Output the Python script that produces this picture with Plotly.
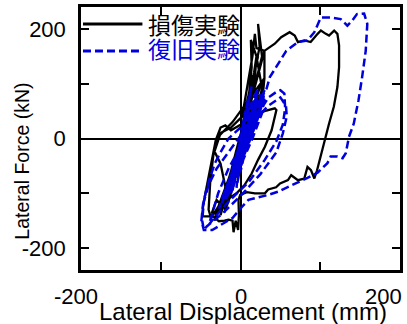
import plotly.graph_objects as go

# ---------------- data ----------------
black_name = "損傷実験"
blue_name = "復旧実験"

black_x = [0, 4, 2, -3, -1, 7, 4, 0, -7, -4, 0, 11, 8, 1, -11, -8, -1, 16, 13, 3, -15, -12, -2,
           20, 22, 19, 6, -20, -17, -4, 24, 22, 25, 27, 12, -25, -22, -6,
           5, 12, 17, 20, 18, 8, -5, -15, -24, -20, -10, 0,
           8, 18, 26, 30, 30, 22, 8, -8, -22, -30, -33, -28, -18, -5,
           3, 10, 14, 13, 20, 24, 26, 14, 2, -12, -26, -37, -40, -38, -34, -25, -12,
           2, 10, 15, 18, 20, 30, 43, 51, 61.6, 68, 72, 80, 88, 96.7, 100.8, 107, 111, 117.4, 121.5,
           123.6, 123.6, 121.5, 117, 111, 107, 103, 98.8, 96, 92.6, 88.4, 84, 80, 72, 63.6, 59.5,
           49.6, 44.6, 34.7, 30.6, 18, 8, -0.4, -2.5, -2, -3, -6, -8.7, -10, -15, -20, -27, -35,
           -48, -47, -44, -40, -36, -31, -25, -19, -12, 0, 15, 30, 43, 45, 39, 30.6, 22, 14, 5, -5,
           -15, -25, -30, -36, -28, -23.5, -19, -25, -33.5, -30, -20, -10, 0, 10, 20, 30, 28, 20,
           10, 0, -10, -20, -12, 0, 8, 16, 22, 18, 8, -3, -12, -18, -14, -5, 2, 10, 14, 9, 0, -8,
           -4, 0, -10, -18, -22, -16, -8, 0, 6, 2, -6, -14, -20, -12, -2, 4, 0]
black_y = [0, 30, 15, -25, -10, 55, 35, 5, -55, -35, -5, 85, 65, 10, -90, -70, -12, 115, 95, 20,
           -115, -95, -18, 140, 150, 130, 40, -130, -112, -28, 167, 209, 175, 150, 60, -140, -120,
           -40,
           30, 80, 120, 150, 110, 50, -20, -80, -130, -105, -60, -15,
           40, 95, 140, 160, 110, 60, 0, -60, -110, -140, -150, -125, -85, -35,
           20, 70, 130, 180, 150, 120, 100, 50, -10, -70, -120, -145, -130, -80, -30, 10, 20,
           40, 110, 150, 191, 165, 160, 173, 185, 194, 188, 176, 179, 176, 191, 197, 191, 188, 197,
           191, 170, 130, 94, 58, 27, 3, -21, -45, -58, -73, -58, -52, -73, -76, -67, -76, -82, -89,
           -93, -100, -100, -98, -103, -112, -140, -167, -150, -171, -150, -148, -150, -151, -142,
           -142, -125, -100, -70, -40, -3, 20, 24, 15, 25, 40, 50, 55, 52, 15, -15, -39, -64, -85,
           -100, -110, -120, -112, -136, -132, -125, -88, -46, -21, 0, 15, 30, 50, 70, 90, 110, 80,
           40, 0, -40, -80, -100, -60, -10, 30, 60, 80, 50, 10, -40, -80, -100, -70, -30, 5, 40,
           60, 30, -10, -50, -30, 0, -60, -100, -125, -110, -70, -30, 10, -20, -70, -110, -135,
           -95, -45, 0, -10]

blue_x = [0, 3, 1, -3, -1, 6, 3, 0, -6, -3, 0, 10, 7, 1, -9, -6, 0, 14, 11, 2, -13, -10, -2,
          18, 22, 19, 5, -16, -19, -14, -1,
          8, 15, 20, 18, 8, -2, -8, -12, -8, 0,
          5, 12, 25, 24, 12, 0, -5, -3, 3,
          26, 30, 28, 15, -5, -22, -27, -22, -8, 5,
          12, 22, 28, 25, 14, 2, -10, -18, -14, -4,
          20, 35, 45, 50, 55, 56, 53, 45, 30, 10, -15, -33, -40, -36, -28, -15, 0,
          15, 35, 50, 57, 58, 53, 45, 25, 0, -25, -42, -46, -48, -46, -40, -30, -15, 0, 15, 28,
          32.7, 36.8, 47, 57.4, 72, 84, 92.6, 96.7, 100.8, 113, 125.6, 134, 140, 146, 155, 159, 157,
          152.5, 148, 142, 136, 132, 128, 121.5, 113, 109, 97, 84, 72, 59.5, 47, 34.7, 22, 10, 1.7,
          -10, -25, -35.5, -46, -49, -47, -43, -38, -32, -25, -15,
          0, 15, 25, 30, 28, 15, 0, -15, -22, -15, 0, 10, 20, 25, 20, 5, -10, -5, 0, 10, 18, 12, 2,
          -8, -4, 3, 10, 16, 22, 20, 10, 0, -6, -10, -6, 2, 8, 14, 12, 4, -3, 0,
          6, 12, 17, 15, 9, 3, -2, -4, 1, 7, 13, 19, 16, 10, 4, 0, 3, 9, 14, 11, 5, 1, 4, 10, 16,
          13, 6, 2, 5]
blue_y = [0, 25, 10, -20, -8, 50, 30, 5, -50, -30, 0, 75, 55, 10, -75, -55, -5, 95, 75, 15, -100,
          -80, -15, 80, 90, 65, 5, -95, -110, -80, -10,
          40, 70, 85, 60, 10, -40, -80, -100, -70, -20,
          30, 60, 80, 55, 5, -50, -90, -60, -20,
          75, 88, 65, 10, -60, -115, -128, -105, -50, 0,
          45, 70, 80, 50, 5, -40, -85, -110, -75, -25,
          40, 75, 85, 88, 82, 55, 25, -5, -40, -80, -115, -145, -158, -140, -100, -55, -15,
          30, 60, 75, 60, 40, 9, -25, -65, -105, -140, -160, -167, -150, -115, -85, -55, -25, 5, 45,
          80,
          91, 112, 136, 160, 176, 179, 194, 209, 221, 221, 218, 206, 215, 227, 228, 209, 160, 112,
          70, 27, 3, -27, -36, -33, -33, -45, -62, -72, -80, -88, -97, -103, -107, -112, -125, -145,
          -158, -167, -167, -150, -120, -95, -70, -45, -25, 0,
          20, 50, 70, 75, 50, 0, -50, -90, -105, -80, -30, 10, 40, 55, 30, -20, -60, -40, 0, 35, 60,
          35, 0, -45, -30, 0, 30, 55, 70, 45, 5, -35, -70, -95, -60, -15, 20, 45, 25, -10, -40, 0,
          20, 45, 60, 35, 0, -30, -55, -75, -50, -10, 25, 55, 30, -5, -35, -60, -20, 20, 45, 20,
          -15, -45, -10, 30, 50, 25, -15, -35, 0]

tick_vals = [-200, -100, 0, 100, 200]
y_tick_text = ["-200", "", "0", "", "200"]
x_label_vals = [-200, 0, 200]
x_label_text = ["-200", "0", "200"]
x_title = "Lateral Displacement (mm)"
y_title = "Lateral Force (kN)"

# ---------------- styles ----------------
BLACK = "#000000"
BLUE = "#0000dd"
FONT = "Liberation Sans, Arial, sans-serif"
CJK = "Noto Sans CJK JP, sans-serif"

fig = go.Figure()
fig.add_trace(go.Scatter(x=black_x, y=black_y, mode="lines", name=black_name,
                         line=dict(color=BLACK, width=2.3), showlegend=False))
fig.add_trace(go.Scatter(x=blue_x, y=blue_y, mode="lines", name=blue_name,
                         line=dict(color=BLUE, width=2.5, dash="8px,4px"), showlegend=False))

axis_common = dict(showline=True, linecolor=BLACK, linewidth=2.5, mirror="ticks",
                   ticks="inside", ticklen=8, tickwidth=2, tickcolor=BLACK,
                   showgrid=False, zeroline=True, zerolinecolor=BLACK, zerolinewidth=2,
                   tickvals=tick_vals)

fig.update_xaxes(range=[-200, 200], showticklabels=False, **axis_common)
fig.update_yaxes(range=[-240, 240], ticktext=y_tick_text, ticklabelstandoff=8,
                 tickfont=dict(family=FONT, size=22, color=BLACK), **axis_common)

# x tick labels
shifts = {-200: (-5, "center"), 0: (0, "center"), 200: (4, "right")}
for v, t in zip(x_label_vals, x_label_text):
    xs, anc = shifts[v]
    fig.add_annotation(x=v, xref="x", y=0, yref="paper", text=t, showarrow=False,
                       xanchor=anc, yanchor="top", xshift=xs, yshift=-12,
                       font=dict(family=FONT, size=22, color=BLACK))

# axis titles
fig.add_annotation(x=0.509, xref="paper", y=0, yref="paper", text=x_title, showarrow=False,
                   xanchor="center", yanchor="middle", yshift=-41,
                   font=dict(family=FONT, size=24, color=BLACK))
fig.add_annotation(x=0, xref="paper", y=0.412, yref="paper", text=y_title, showarrow=False,
                   textangle=-90, xanchor="center", yanchor="middle", xshift=-59,
                   font=dict(family=FONT, size=19.5, color=BLACK))

# legend (manual)
fig.add_shape(type="line", xref="paper", yref="paper", x0=0.0062, x1=0.1925, y0=0.9354, y1=0.9354,
              line=dict(color=BLACK, width=3))
fig.add_shape(type="line", xref="paper", yref="paper", x0=0.0062, x1=0.1925, y0=0.8327, y1=0.8327,
              line=dict(color=BLUE, width=3, dash="8px,4px"))
fig.add_annotation(x=0.205, xref="paper", y=0.9354, yref="paper", text=black_name, showarrow=False,
                   xanchor="left", yanchor="middle", font=dict(family=CJK, size=23, color=BLACK))
fig.add_annotation(x=0.205, xref="paper", y=0.844, yref="paper", text=blue_name, showarrow=False,
                   xanchor="left", yanchor="middle", font=dict(family=CJK, size=23, color=BLUE))

fig.update_layout(width=407, height=324, margin=dict(l=81, r=4, t=7, b=54),
                  paper_bgcolor="white", plot_bgcolor="white", showlegend=False)

fig.write_html("out.html")
